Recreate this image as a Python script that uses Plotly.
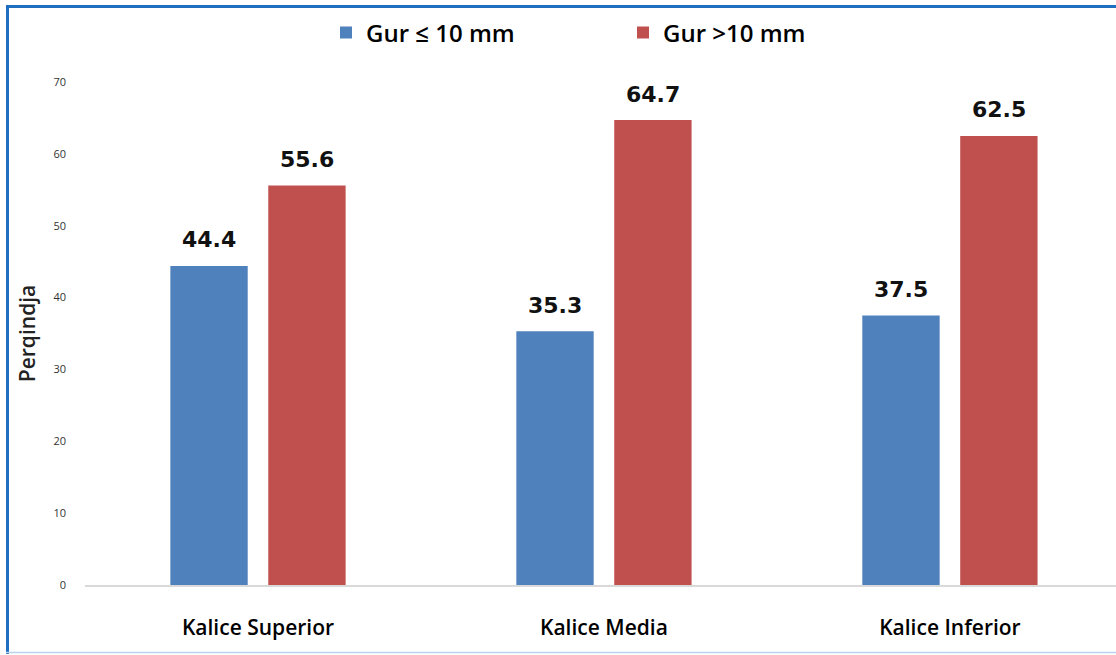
import plotly.graph_objects as go

categories = ["Kalice Superior", "Kalice Media", "Kalice Inferior"]
small_stones = [44.4, 35.3, 37.5]
large_stones = [55.6, 64.7, 62.5]
series_names = ["Gur ≤ 10 mm", "Gur >10 mm"]
y_ticks = [0, 10, 20, 30, 40, 50, 60, 70]

W, H = 1116, 655
ML, MR, MT, MB = 85, 0, 82, 70

BLUE = "#4f81bd"
RED = "#c0504d"
FONT = "'Open Sans', sans-serif"
LABEL_FONT = "'DejaVu Sans', sans-serif"

fig = go.Figure()
series = [(series_names[0], small_stones, BLUE, -0.1416),
          (series_names[1], large_stones, RED, 0.1416)]
for name, vals, col, _ in series:
    fig.add_trace(go.Bar(
        x=categories, y=vals, name=name,
        marker=dict(color=col, line=dict(width=0)),
    ))

# value labels above each bar
annotations = []
for name, vals, col, off in series:
    for i, v in enumerate(vals):
        annotations.append(dict(
            x=i + off, y=v, xref="x", yref="y",
            text=f"{v:.1f}", showarrow=False,
            yanchor="middle", yshift=26,
            font=dict(family=LABEL_FONT, size=22, color="#111111", weight="bold"),
        ))

# frame around the chart, expressed in paper units of the plot area
pw = W - ML - MR
ph = H - MT - MB
def px_x(p):
    return (p - ML) / pw
def px_y(p):
    return (H - MB - p) / ph

shapes = [
    dict(type="line", xref="paper", yref="paper",
         x0=px_x(7.5), x1=px_x(7.5), y0=px_y(5), y1=px_y(654),
         line=dict(color="#1f6ebf", width=3)),
    dict(type="line", xref="paper", yref="paper",
         x0=px_x(6), x1=px_x(1116), y0=px_y(6.5), y1=px_y(6.5),
         line=dict(color="#1f6ebf", width=3)),
    dict(type="line", xref="paper", yref="paper",
         x0=px_x(6), x1=px_x(1116), y0=px_y(652.5), y1=px_y(652.5),
         line=dict(color="#bcd3ee", width=1.5)),
]

fig.update_layout(
    width=W, height=H,
    margin=dict(l=ML, r=MR, t=MT, b=MB, autoexpand=False),
    paper_bgcolor="white", plot_bgcolor="white",
    barmode="group", bargap=0.434, bargroupgap=0.21,
    font=dict(family=FONT, color="#000000"),
    showlegend=True,
    legend=dict(orientation="h", x=px_x(326), xanchor="left",
                y=px_y(33), yanchor="middle",
                bgcolor="rgba(0,0,0,0)",
                font=dict(family=FONT, size=24, color="#000000", weight=600),
                itemwidth=30, entrywidth=252, entrywidthmode="pixels"),
    shapes=shapes,
    annotations=annotations,
    xaxis=dict(
        type="category", range=[-0.5, 2.48],
        showline=True, linecolor="#d9d9d9", linewidth=2,
        showgrid=False, ticks="",
        tickfont=dict(family=FONT, size=21, color="#000000", weight=600),
        ticklabelstandoff=23,
    ),
    yaxis=dict(
        range=[0, 70], tickvals=y_ticks,
        showgrid=False, zeroline=False, showline=False, ticks="",
        tickfont=dict(family=FONT, size=11, color="#333333"),
        ticklabelstandoff=18,
        title=dict(text="Perqindja", standoff=12,
                   font=dict(family=FONT, size=21, color="#222222", weight=600)),
    ),
)

fig.write_html("out.html")
